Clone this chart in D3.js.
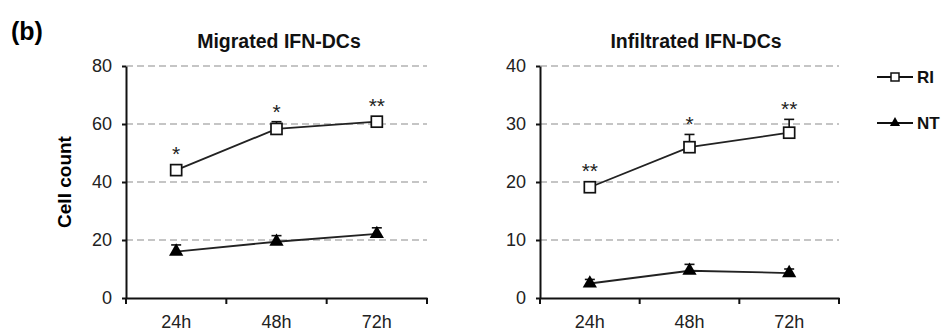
<!DOCTYPE html>
<html>
<head>
<meta charset="utf-8">
<script src="https://cdn.jsdelivr.net/npm/d3@7"></script>
<style>
  body { margin: 0; background: #fff; }
  svg { display: block; font-family: Arial, "Liberation Sans", sans-serif; }
</style>
</head>
<body>
<div id="chart"></div>
<script>
// data
const timepoints = ['24h', '48h', '72h'];

const migratedRI = [44.1, 58.3, 60.8];
const migratedRIErr = [0.5, 2.5, 1.5];
const migratedNT = [16.0, 19.4, 22.1];
const migratedNTErr = [2.3, 2.1, 2.1];
const migratedStars = ['*', '*', '**'];
const migratedTicks = [0, 20, 40, 60, 80];

const infiltratedRI = [19.1, 26.0, 28.5];
const infiltratedRIErr = [0.5, 2.2, 2.3];
const infiltratedNT = [2.5, 4.7, 4.3];
const infiltratedNTErr = [0.7, 1.1, 0.7];
const infiltratedStars = ['**', '*', '**'];
const infiltratedTicks = [0, 10, 20, 30, 40];

const seriesNames = ['RI', 'NT'];

const width = 949;
const height = 331;
const plotTop = 66, plotBottom = 298;

const svg = d3.select('#chart').append('svg')
  .attr('width', width)
  .attr('height', height);

svg.append('text')
  .attr('x', 11).attr('y', 40)
  .attr('font-size', 25).attr('font-weight', 'bold')
  .text('(b)');

svg.append('text')
  .attr('transform', 'translate(71,182) rotate(-90)')
  .attr('text-anchor', 'middle')
  .attr('font-size', 19).attr('font-weight', 'bold')
  .text('Cell count');

const triangle = d3.symbol().type(d3.symbolTriangle).size(88);

function drawPanel(opts) {
  const x = d3.scaleBand().domain(timepoints).range([opts.left, opts.right]);
  const y = d3.scaleLinear().domain([0, opts.ticks[opts.ticks.length - 1]]).range([plotBottom, plotTop]);
  const g = svg.append('g');

  // title
  g.append('text')
    .attr('x', opts.titleX).attr('y', 48)
    .attr('text-anchor', 'middle')
    .attr('font-size', 19.5).attr('font-weight', 'bold')
    .attr('fill', '#111')
    .text(opts.title);

  // dashed grid
  g.selectAll('line.grid').data(opts.ticks.slice(1)).enter().append('line')
    .attr('class', 'grid')
    .attr('x1', opts.left).attr('x2', opts.right)
    .attr('y1', d => y(d)).attr('y2', d => y(d))
    .attr('stroke', '#b3b3b3').attr('stroke-width', 1.5)
    .attr('stroke-dasharray', '7,4');

  // y axis
  const yAxis = g.append('g')
    .attr('transform', 'translate(' + opts.left + ',0)')
    .call(d3.axisLeft(y).tickValues(opts.ticks).tickSizeInner(4).tickSizeOuter(0).tickPadding(10));
  yAxis.select('.domain').attr('stroke', '#111').attr('stroke-width', 2);
  yAxis.selectAll('.tick line').attr('stroke', '#111').attr('stroke-width', 2);
  yAxis.selectAll('text').attr('font-size', 18).attr('fill', '#222')
    .attr('font-family', 'Arial, "Liberation Sans", sans-serif');

  // x axis: labels in band centres, ticks on band edges
  const xAxis = g.append('g')
    .attr('transform', 'translate(0,' + plotBottom + ')')
    .call(d3.axisBottom(x).tickSizeInner(0).tickSizeOuter(0).tickPadding(17));
  xAxis.select('.domain').attr('stroke', '#111').attr('stroke-width', 2);
  xAxis.selectAll('text').attr('font-size', 18).attr('fill', '#222')
    .attr('font-family', 'Arial, "Liberation Sans", sans-serif');
  const edges = timepoints.map(d => x(d)).concat([opts.right]);
  xAxis.selectAll('line.edge').data(edges).enter().append('line')
    .attr('class', 'edge')
    .attr('x1', d => d).attr('x2', d => d)
    .attr('y1', 0).attr('y2', 6)
    .attr('stroke', '#111').attr('stroke-width', 2);

  const cx = d => x(d) + x.bandwidth() / 2;
  const line = d3.line().x(d => cx(d.t)).y(d => y(d.v));

  const series = [
    {name: 'RI', values: opts.ri, errs: opts.riErr},
    {name: 'NT', values: opts.nt, errs: opts.ntErr}
  ];

  series.forEach(s => {
    const pts = timepoints.map((t, i) => ({t: t, v: s.values[i], e: s.errs[i]}));
    g.append('path').datum(pts)
      .attr('d', line)
      .attr('fill', 'none').attr('stroke', '#222').attr('stroke-width', 1.8);

    // upper error bars
    const eb = g.append('g');
    eb.selectAll('line.stem').data(pts).enter().append('line')
      .attr('x1', d => cx(d.t)).attr('x2', d => cx(d.t))
      .attr('y1', d => y(d.v)).attr('y2', d => y(d.v + d.e))
      .attr('stroke', '#111').attr('stroke-width', 1.6);
    eb.selectAll('line.cap').data(pts).enter().append('line')
      .attr('x1', d => cx(d.t) - 5).attr('x2', d => cx(d.t) + 5)
      .attr('y1', d => y(d.v + d.e)).attr('y2', d => y(d.v + d.e))
      .attr('stroke', '#111').attr('stroke-width', 1.6);

    if (s.name === 'RI') {
      g.selectAll('rect.ri').data(pts).enter().append('rect')
        .attr('x', d => cx(d.t) - 5.5).attr('y', d => y(d.v) - 5.5)
        .attr('width', 11).attr('height', 11)
        .attr('fill', '#fff').attr('stroke', '#111').attr('stroke-width', 1.7);

      // significance stars
      g.selectAll('text.star').data(pts).enter().append('text')
        .attr('x', d => cx(d.t))
        .attr('y', d => Math.min(y(d.v) - 6, y(d.v + d.e)) - 3)
        .attr('text-anchor', 'middle')
        .attr('font-size', 21).attr('fill', '#222')
        .text((d, i) => opts.stars[i]);
    } else {
      g.selectAll('path.nt').data(pts).enter().append('path')
        .attr('d', triangle)
        .attr('transform', d => 'translate(' + cx(d.t) + ',' + y(d.v) + ')')
        .attr('fill', '#000');
    }
  });
}

drawPanel({
  title: 'Migrated IFN-DCs', titleX: 279,
  left: 126, right: 427,
  ticks: migratedTicks,
  ri: migratedRI, riErr: migratedRIErr,
  nt: migratedNT, ntErr: migratedNTErr,
  stars: migratedStars
});

drawPanel({
  title: 'Infiltrated IFN-DCs', titleX: 696,
  left: 540, right: 839,
  ticks: infiltratedTicks,
  ri: infiltratedRI, riErr: infiltratedRIErr,
  nt: infiltratedNT, ntErr: infiltratedNTErr,
  stars: infiltratedStars
});

// legend
const legend = svg.append('g');
const legendY = [77, 123];
seriesNames.forEach((name, i) => {
  const ly = legendY[i];
  legend.append('line')
    .attr('x1', 877).attr('x2', 913).attr('y1', ly).attr('y2', ly)
    .attr('stroke', '#111').attr('stroke-width', 1.8);
  if (name === 'RI') {
    legend.append('rect')
      .attr('x', 891).attr('y', ly - 4).attr('width', 8).attr('height', 8)
      .attr('fill', '#fff').attr('stroke', '#111').attr('stroke-width', 1.5);
  } else {
    legend.append('path')
      .attr('d', d3.symbol().type(d3.symbolTriangle).size(45))
      .attr('transform', 'translate(895,' + ly + ')')
      .attr('fill', '#000');
  }
  legend.append('text')
    .attr('x', 917).attr('y', ly + 6)
    .attr('font-size', 17).attr('font-weight', 'bold')
    .attr('fill', '#111')
    .text(name);
});
</script>
</body>
</html>
